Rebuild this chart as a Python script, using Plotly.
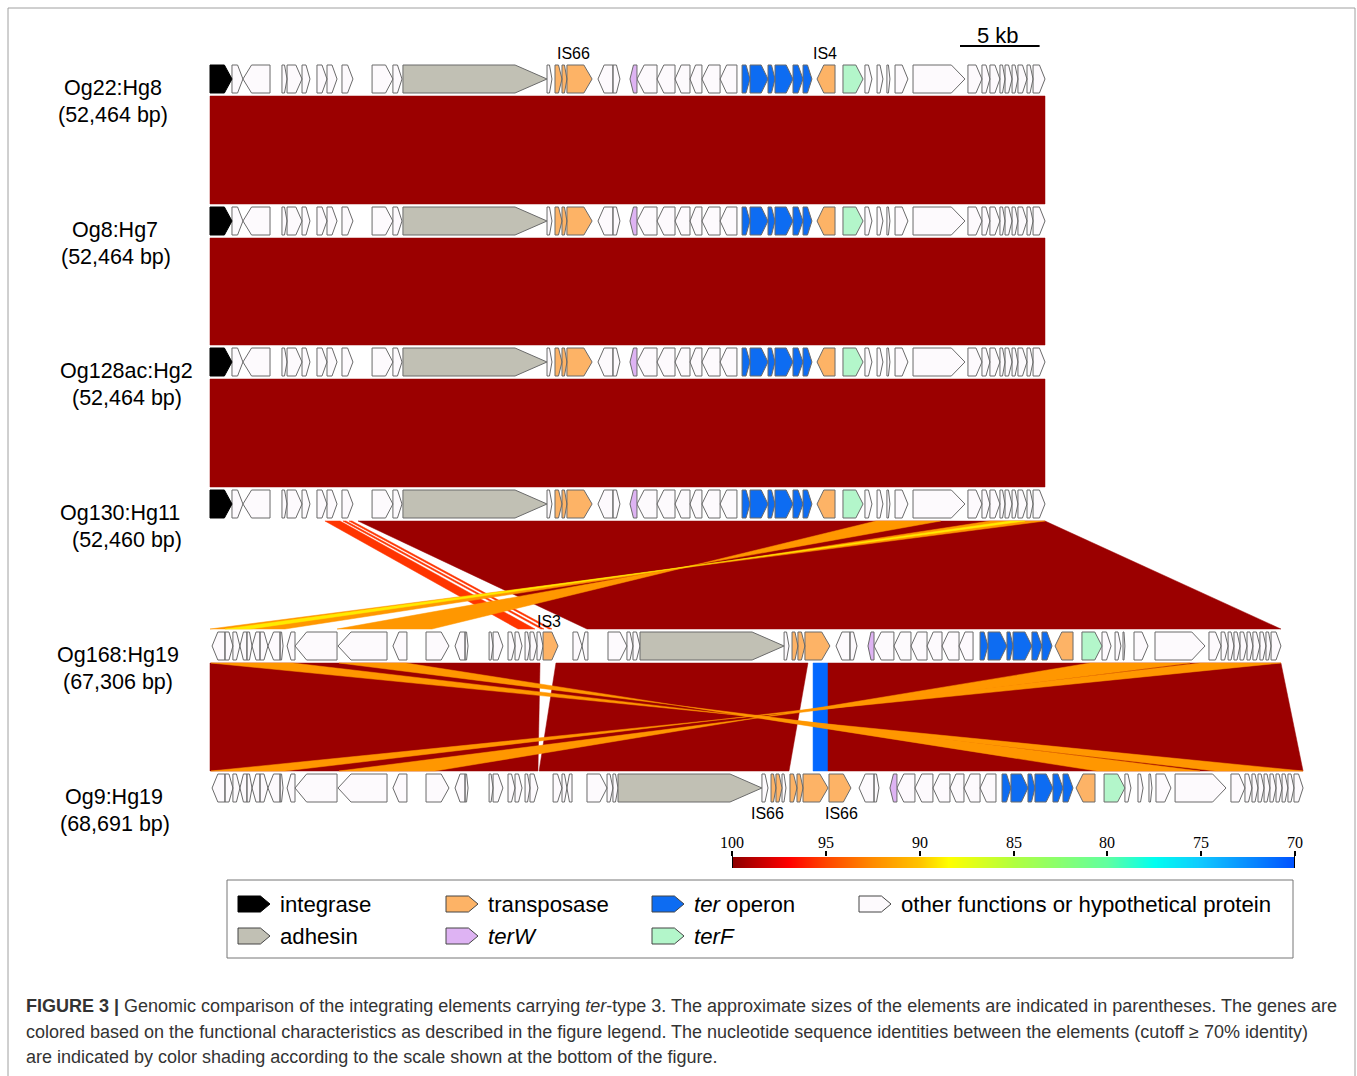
import plotly.graph_objects as go
from plotly.colors import sample_colorscale

W, H = 1357, 1076
PX_PER_KB = 15.92
ORIGIN_PX = 210.0
SANS = "Liberation Sans, Arial, Helvetica, sans-serif"
SERIF = "Liberation Serif, Times New Roman, serif"

# ---------------- genomes ----------------
GENOME_NAMES = ["Og22:Hg8", "Og8:Hg7", "Og128ac:Hg2", "Og130:Hg11", "Og168:Hg19", "Og9:Hg19"]
GENOME_SIZES = ["(52,464 bp)", "(52,464 bp)", "(52,464 bp)", "(52,460 bp)", "(67,306 bp)", "(68,691 bp)"]

# ter-type 3 element map (shared by Og22, Og8, Og128ac, Og130), kb
T3_START = [0.00, 1.38, 2.07, 4.52, 4.84, 5.78, 6.72, 7.35, 8.29, 10.18, 11.49, 12.12, 21.17, 21.67, 22.11, 22.42,
            24.37, 25.31, 26.38, 26.82, 28.08, 29.21, 30.15, 30.90, 32.04, 33.42, 33.92, 35.05, 35.49, 36.62, 37.25,
            38.13, 39.76, 41.14, 41.90, 42.52, 43.03, 44.16, 47.61, 48.49, 48.99, 49.62, 49.94, 50.38, 50.75, 51.32, 51.70]
T3_END = [1.38, 2.07, 3.77, 4.84, 5.78, 6.28, 7.35, 7.98, 8.98, 11.49, 12.06, 21.17, 21.48, 22.11, 22.42, 24.00,
          25.31, 25.75, 26.82, 28.08, 29.21, 30.15, 30.90, 32.04, 33.10, 33.92, 35.05, 35.49, 36.62, 37.25, 37.81,
          39.26, 41.02, 41.58, 42.27, 42.71, 43.84, 47.42, 48.49, 48.99, 49.62, 49.94, 50.38, 50.75, 51.32, 51.70, 52.45]
T3_STRAND = [1, 1, -1, 1, 1, 1, 1, 1, 1, 1, 1, 1, 1, 1, 1, 1, -1, 1, -1, -1, -1, -1, -1, -1, -1, 1, 1, 1, 1, 1, 1,
             -1, 1, 1, 1, 1, 1, 1, 1, 1, 1, 1, 1, 1, 1, 1, 1]
T3_CAT = ["I"] + ["H"] * 10 + ["A", "H", "T", "T", "T", "H", "H", "W"] + ["H"] * 6 + ["O"] * 6 + ["T", "F"] + ["H"] * 14

OG168_START = [0.13, 0.94, 1.44, 1.88, 2.32, 2.64, 3.14, 3.64, 4.40, 4.84, 5.34, 8.04, 11.49, 13.57, 15.39, 16.02,
               17.53, 17.78, 18.72, 19.16, 19.79, 20.10, 20.54, 20.92, 22.80, 23.37, 25.00, 26.19, 26.57, 27.01,
               36.06, 36.56, 36.93, 37.37, 39.32, 40.20, 41.33, 41.71, 42.96, 44.03, 45.04, 45.98, 47.05, 48.37,
               48.87, 50.06, 50.44, 51.63, 52.26, 53.08, 54.77, 56.03, 56.85, 57.35, 58.04, 59.36, 62.75, 63.51,
               63.95, 64.32, 64.70, 65.14, 65.51, 65.95, 66.33, 66.65]
OG168_END = [0.94, 1.44, 1.88, 2.32, 2.64, 3.14, 3.64, 4.40, 4.59, 5.34, 7.98, 11.12, 12.37, 15.01, 16.02, 16.21,
             17.78, 18.40, 19.16, 19.60, 20.10, 20.54, 20.92, 21.86, 23.37, 23.74, 26.19, 26.57, 27.01, 36.06,
             36.37, 36.93, 37.37, 38.94, 40.20, 40.64, 41.71, 42.96, 44.03, 45.04, 45.98, 47.05, 47.93, 48.87,
             50.06, 50.44, 51.63, 52.26, 52.89, 54.21, 56.03, 56.60, 57.22, 57.47, 58.92, 62.50, 63.51, 63.95,
             64.32, 64.70, 65.14, 65.51, 65.95, 66.33, 66.65, 67.27]
OG168_STRAND = [-1, 1, 1, -1, 1, -1, 1, -1, 1, -1, -1, -1, -1, 1, -1, 1, 1, 1, 1, 1, 1, 1, 1, 1, 1, -1, 1, 1, 1, 1,
                1, 1, 1, 1, -1, 1, -1, -1, -1, -1, -1, -1, -1, 1, 1, 1, 1, 1, 1, -1, 1,
                1, 1, 1, 1, 1, 1, 1, 1, 1, 1, 1, 1, 1, 1, 1]
OG168_CAT = ["H"] * 23 + ["T"] + ["H"] * 5 + ["A", "H", "T", "T", "T", "H", "H", "W"] + ["H"] * 6 + ["O"] * 6 + \
            ["T", "F"] + ["H"] * 15

OG9_START = [0.13, 0.94, 1.44, 1.88, 2.32, 2.64, 3.14, 3.64, 4.40, 4.84, 5.34, 8.04, 11.49, 13.57, 15.39, 16.02,
             17.53, 17.78, 18.72, 19.16, 19.79, 20.10, 21.55, 22.11, 22.42, 23.68, 24.94, 25.31, 25.63, 34.67,
             35.24, 35.55, 35.93, 36.43, 36.87, 37.25, 38.88, 40.77, 41.71, 42.71, 43.15, 44.28, 45.41, 46.48,
             47.36, 48.37, 49.75, 50.31, 51.38, 51.82, 52.95, 53.58, 54.40, 56.16, 57.47, 58.29, 58.98, 59.42,
             60.62, 64.13, 65.01, 65.45, 65.83, 66.21, 66.58, 66.96, 67.34, 67.71, 68.09]
OG9_END = [0.94, 1.44, 1.88, 2.32, 2.64, 3.14, 3.64, 4.40, 4.59, 5.34, 7.98, 11.12, 12.37, 15.01, 16.02, 16.21,
           17.78, 18.40, 19.16, 19.60, 20.10, 20.60, 22.11, 22.42, 22.74, 24.94, 25.31, 25.63, 34.67, 35.05,
           35.55, 35.93, 36.18, 36.87, 37.25, 38.82, 40.26, 41.71, 42.02, 43.15, 44.28, 45.41, 46.48, 47.36,
           48.37, 49.37, 50.31, 51.38, 51.82, 52.95, 53.58, 54.21, 55.59, 57.47, 57.85, 58.61, 59.17, 60.36,
           63.82, 65.01, 65.45, 65.83, 66.21, 66.58, 66.96, 67.34, 67.71, 68.09, 68.66]
OG9_STRAND = [-1, 1, 1, -1, 1, -1, 1, -1, 1, -1, -1, -1, -1, 1, -1, 1, 1, 1, 1, 1, 1, 1, 1, 1, -1, 1, 1, 1, 1, 1,
              1, 1, 1, 1, 1, 1, 1, -1, 1, -1, -1, -1, -1, -1, -1, -1, 1, 1, 1, 1, 1, 1, -1, 1,
              1, 1, 1, 1, 1, 1, 1, 1, 1, 1, 1, 1, 1, 1, 1]
OG9_CAT = ["H"] * 28 + ["A", "H", "T", "T", "H", "T", "T", "T", "T", "H", "H", "W"] + ["H"] * 6 + ["O"] * 6 + \
          ["T", "F"] + ["H"] * 15

TRACK_GENES = [
    (T3_START, T3_END, T3_STRAND, T3_CAT),
    (T3_START, T3_END, T3_STRAND, T3_CAT),
    (T3_START, T3_END, T3_STRAND, T3_CAT),
    (T3_START, T3_END, T3_STRAND, T3_CAT),
    (OG168_START, OG168_END, OG168_STRAND, OG168_CAT),
    (OG9_START, OG9_END, OG9_STRAND, OG9_CAT),
]

# gene labels: track index, kb position, text, side
LABEL_TRACK = [0, 0, 4, 5, 5]
LABEL_KB = [22.86, 38.63, 21.29, 34.99, 39.64]
LABEL_TEXT = ["IS66", "IS4", "IS3", "IS66", "IS66"]
LABEL_SIDE = ["above", "above", "above", "below", "below"]

# ---------------- BLAST-like matches ----------------
MATCH_UPPER = [0, 1, 2, 3, 3, 3, 3, 3, 3, 3, 4, 4, 4, 4, 4, 4, 4, 4]
MATCH_TOP_START = [0.0, 0.0, 0.0, 9.30, 7.22, 8.35, 8.73, 41.83, 49.00, 50.25, 0.0, 21.73, 37.88, 38.82, 0.06, 8.10, 55.28, 62.19]
MATCH_TOP_END = [52.45, 52.45, 52.45, 52.45, 8.17, 8.54, 8.92, 45.90, 52.45, 51.19, 20.73, 37.56, 38.82, 67.27, 5.21, 12.31, 61.56, 67.27]
MATCH_BOT_START = [0.0, 0.0, 0.0, 23.68, 19.35, 20.79, 21.29, 7.98, 0.0, 0.94, 0.0, 20.67, 37.88, 38.82, 63.13, 55.72, 8.10, 0.06]
MATCH_BOT_END = [52.45, 52.45, 52.45, 67.27, 20.41, 20.98, 21.48, 13.94, 4.71, 2.51, 20.60, 36.37, 38.82, 68.66, 68.66, 62.19, 14.13, 4.71]
MATCH_IDENTITY = [99.6, 99.6, 99.6, 99.6, 95.5, 95.5, 95.5, 92.0, 92.0, 89.0, 99.6, 99.6, 71.0, 99.6, 92.0, 92.0, 92.0, 92.0]
MATCH_INVERTED = [False, False, False, False, False, False, False, True, True, True, False, False, False, False, True, True, True, True]

# ---------------- identity colour scale ----------------
SCALE_TICKS = [100, 95, 90, 85, 80, 75, 70]
SCALE_TICK_TEXT = ["100", "95", "90", "85", "80", "75", "70"]
IDENTITY_STOPS = [70, 75, 77.5, 80, 85, 88.5, 90, 92.5, 95, 97, 100]
IDENTITY_COLORS = ['rgb(0,80,255)', 'rgb(16,200,255)', 'rgb(0,255,240)', 'rgb(96,255,160)', 'rgb(176,255,64)',
                   'rgb(255,255,0)', 'rgb(255,196,0)', 'rgb(255,140,0)', 'rgb(255,70,0)', 'rgb(255,0,0)',
                   'rgb(140,0,0)']

# ---------------- legend ----------------
LEGEND_TEXT = ["integrase", "transposase", "<i>ter</i> operon", "other functions or hypothetical protein",
               "adhesin", "<i>terW</i>", "<i>terF</i>"]
LEGEND_CAT = ["I", "T", "O", "H", "A", "W", "F"]

CAT_FILL = {"I": "#000000", "H": "#FDFAFD", "A": "#C1C0B4", "T": "#FDB366", "O": "#0D6CF2",
            "W": "#DEB3F3", "F": "#B3F6CA"}
OUTLINE = "#6B6B6B"

# ---------------- layout constants ----------------
TRACK_Y = [79, 221, 362, 504, 646, 788]
GENE_HALF = 14
BAND_GAP = 17


def px2kb(px):
    return (px - ORIGIN_PX) / PX_PER_KB


def arrow(s, e, strand, yc, half):
    L = e - s
    h = min(0.2 * L + 0.2, 0.5 * L)
    yt, yb = yc - half, yc + half
    if strand >= 0:
        xs = [s, e - h, e, e - h, s, s]
    else:
        xs = [e, s + h, s, s + h, e, e]
    ys = [yt, yt, yc, yb, yb, yt]
    return xs, ys


colorscale = [[(v - 70) / 30.0, c] for v, c in zip(IDENTITY_STOPS, IDENTITY_COLORS)]


def id_color(v):
    return sample_colorscale(colorscale, [(v - 70) / 30.0])[0]


fig = go.Figure()

# matches (drawn first)
for i in range(len(MATCH_UPPER)):
    u = MATCH_UPPER[i]
    yt = TRACK_Y[u] + BAND_GAP
    yb = TRACK_Y[u + 1] - BAND_GAP
    a, b = MATCH_TOP_START[i], MATCH_TOP_END[i]
    c, d = MATCH_BOT_START[i], MATCH_BOT_END[i]
    if MATCH_INVERTED[i]:
        xs = [a, b, c, d, a]
    else:
        xs = [a, b, d, c, a]
    ys = [yt, yt, yb, yb, yt]
    col = id_color(MATCH_IDENTITY[i])
    fig.add_trace(go.Scatter(x=xs, y=ys, mode="lines", fill="toself", fillcolor=col,
                             line=dict(width=0.5, color=col), hoverinfo="skip", showlegend=False))

# genes
for t, (st, en, sd, ct) in enumerate(TRACK_GENES):
    for cat in ["H", "I", "A", "T", "O", "W", "F"]:
        xs, ys = [], []
        for s, e, d, c in zip(st, en, sd, ct):
            if c != cat:
                continue
            ax, ay = arrow(s, e, d, TRACK_Y[t], GENE_HALF)
            xs += ax + [None]
            ys += ay + [None]
        if not xs:
            continue
        fig.add_trace(go.Scatter(x=xs, y=ys, mode="lines", fill="toself", fillcolor=CAT_FILL[cat],
                                 line=dict(width=1, color="#000000" if cat == "I" else OUTLINE),
                                 hoverinfo="skip", showlegend=False))

# legend icons
LEG_POS = [(238, 904), (446, 904), (652, 904), (859, 904), (238, 936), (446, 936), (652, 936)]
for (lx, ly), cat, txt in zip(LEG_POS, LEGEND_CAT, LEGEND_TEXT):
    ax, ay = arrow(px2kb(lx), px2kb(lx + 32), 1, ly, 8)
    fig.add_trace(go.Scatter(x=ax, y=ay, mode="lines", fill="toself", fillcolor=CAT_FILL[cat],
                             line=dict(width=1, color="#000000" if cat == "I" else "#444444"),
                             hoverinfo="skip", showlegend=False))

# scale bar (5 kb)
SCALE_BAR_KB = 5
sb0 = px2kb(960)
fig.add_trace(go.Scatter(x=[sb0, sb0 + SCALE_BAR_KB], y=[46, 46], mode="lines",
                         line=dict(color="black", width=2), hoverinfo="skip", showlegend=False))

# colour bar
fig.add_trace(go.Heatmap(x=SCALE_TICKS, y=[0], z=[SCALE_TICKS], colorscale=colorscale, zmin=70, zmax=100,
                         zsmooth="best", showscale=False, hoverinfo="skip", xaxis="x2", yaxis="y2"))

annotations = []


def ann(text, xpx, ypx, size, xanchor="center", family=SANS, color="black"):
    annotations.append(dict(text=text, x=xpx / W, y=1 - ypx / H, xref="paper", yref="paper",
                            xanchor=xanchor, yanchor="middle", showarrow=False,
                            font=dict(size=size, family=family, color=color)))


NAME_X = [113, 115, 126, 120, 118, 114]
SIZE_X = [113, 116, 127, 127, 118, 115]
for i in range(6):
    ann(GENOME_NAMES[i], NAME_X[i], TRACK_Y[i] + 9, 21.5)
    ann(GENOME_SIZES[i], SIZE_X[i], TRACK_Y[i] + 36, 21.5)

for t, kb, txt, side in zip(LABEL_TRACK, LABEL_KB, LABEL_TEXT, LABEL_SIDE):
    ypx = TRACK_Y[t] - 25 if side == "above" else TRACK_Y[t] + 25
    ann(txt, ORIGIN_PX + kb * PX_PER_KB, ypx, 16)

ann("5 kb", 998, 35, 22)

LEG_TEXT_X = [278, 486, 692, 899, 278, 486, 692]
for (lx, ly), tx, txt in zip(LEG_POS, LEG_TEXT_X, LEGEND_TEXT):
    ann(txt, tx, ly, 22.2, xanchor="left")

# colour-scale tick labels placed through the x2 scale
for v, txt in zip(SCALE_TICKS, SCALE_TICK_TEXT):
    annotations.append(dict(text=txt, x=v, xref="x2", y=1 - 842 / H, yref="paper", xanchor="center",
                            yanchor="middle", showarrow=False,
                            font=dict(size=16, family=SERIF, color="black")))

CAPTION = [
    "<b>FIGURE 3 |</b> Genomic comparison of the integrating elements carrying <i>ter</i>-type 3. The approximate sizes of the elements are indicated in parentheses. The genes are",
    "colored based on the functional characteristics as described in the figure legend. The nucleotide sequence identities between the elements (cutoff \u2265 70% identity)",
    "are indicated by color shading according to the scale shown at the bottom of the figure.",
]
for i, line in enumerate(CAPTION):
    ann(line, 24, 1006 + i * 25.5, 18, xanchor="left", color="#333333")

shapes = [
    dict(type="rect", xref="paper", yref="paper", x0=8 / W, x1=1355 / W, y0=1 - 1080 / H, y1=1 - 8 / H,
         line=dict(color="#A0A0A0", width=1)),
    dict(type="rect", xref="paper", yref="paper", x0=227 / W, x1=1293 / W, y0=1 - 958 / H, y1=1 - 880 / H,
         line=dict(color="#777777", width=1)),
    dict(type="line", xref="x2", yref="paper", x0=100, x1=100, y0=1 - 868 / H, y1=1 - 851 / H,
         line=dict(color="black", width=2)),
    dict(type="line", xref="x2", yref="paper", x0=70, x1=70, y0=1 - 868 / H, y1=1 - 851 / H,
         line=dict(color="black", width=2)),
]

fig.update_layout(
    width=W, height=H, autosize=False,
    margin=dict(l=0, r=0, t=0, b=0, pad=0),
    paper_bgcolor="white", plot_bgcolor="rgba(0,0,0,0)",
    showlegend=False, hovermode=False,
    xaxis=dict(range=[px2kb(0), px2kb(W)], visible=False, domain=[0, 1], fixedrange=True),
    yaxis=dict(range=[H, 0], visible=False, domain=[0, 1], fixedrange=True),
    xaxis2=dict(domain=[732 / W, 1295 / W], range=[100, 70], anchor="y2", side="top", ticks="outside",
                tickvals=SCALE_TICKS, ticklen=5, tickwidth=2, tickcolor="black", showgrid=False,
                zeroline=False, showline=False, showticklabels=False, fixedrange=True),
    yaxis2=dict(domain=[1 - 868 / H, 1 - 857 / H], range=[-0.5, 0.5], anchor="x2", visible=False,
                fixedrange=True),
    annotations=annotations,
    shapes=shapes,
)

PAGE_FIX = ("document.documentElement.style.margin='0';document.documentElement.style.overflow='hidden';"
            "document.body.style.margin='0';document.body.style.padding='0';document.body.style.overflow='hidden';")
fig.write_html("out.html", post_script=PAGE_FIX, config={"displayModeBar": False, "staticPlot": True})
